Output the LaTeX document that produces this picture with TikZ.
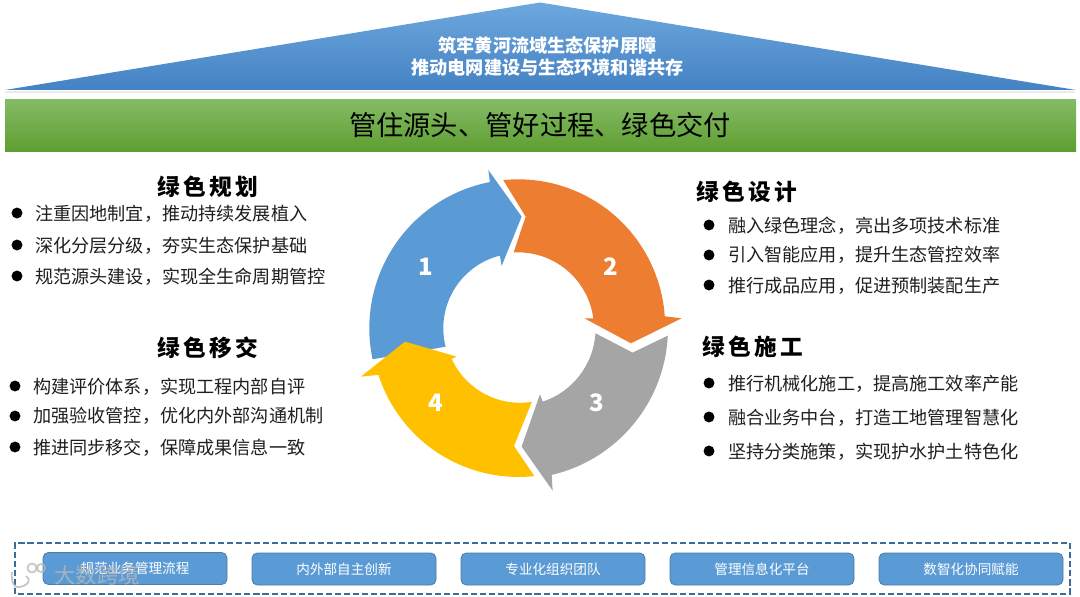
\documentclass[tikz,border=0pt]{standalone}
\usepackage{fontspec}
\setmainfont{Noto Sans CJK SC}
\usetikzlibrary{calc}
\definecolor{cblue}{HTML}{5B9BD5}
\definecolor{corange}{HTML}{ED7D31}
\definecolor{cgray}{HTML}{A5A5A5}
\definecolor{cyellow}{HTML}{FFC000}
\definecolor{dashblue}{HTML}{3A6D99}
\definecolor{rooftop}{HTML}{6DA7DE}
\definecolor{roofbot}{HTML}{4482C3}
\definecolor{bantop}{HTML}{84BB66}
\definecolor{banbot}{HTML}{5E9E30}
\tikzset{
  px/.style={x=0.75pt,y=0.75pt},
  body/.style={anchor=west,inner sep=0pt,font=\fontsize{13.6pt}{16pt}\selectfont,text=black!88},
  head/.style={anchor=center,inner sep=0pt,font=\fontsize{17pt}{20pt}\bfseries\addfontfeature{LetterSpace=15}},
  bullet/.style={circle,fill=black,inner sep=0pt,minimum size=8.2pt},
  numlabel/.style={inner sep=0pt,text=white,font=\fontsize{18pt}{20pt}\bfseries},
  pill/.style={draw=dashblue!90,line width=0.6pt,fill=cblue,rounded corners=4pt,minimum width=138pt,minimum height=24pt,inner sep=0pt,text=white,font=\fontsize{10.2pt}{12pt}\selectfont},
  wmark/.style={black!28,opacity=.8,line width=1.3pt}
}
\begin{document}
\begin{tikzpicture}[px]
\useasboundingbox (0,0) rectangle (1080,596);
\fill[white] (0,0) rectangle (1080,596);
% roof
\fill[black!8] (5,503) rectangle (1075,505);
\shade[top color=rooftop,bottom color=roofbot] (540,593.5) -- (1076,506) -- (5,506) -- cycle;
\node[inner sep=0pt,text=white,align=center,font=\fontsize{13.6pt}{17pt}\bfseries] (roof) at (547.5,539.5) {筑牢黄河流域生态保护屏障\\推动电网建设与生态环境和谐共存};
% banner
\shade[top color=bantop,bottom color=banbot] (5,444) rectangle (1076,496);
\node[inner sep=0pt,font=\fontsize{20.45pt}{24pt}\selectfont,text=black] (banner) at (540,470.5) {管住源头、管好过程、绿色交付};
% cycle
\begin{scope}[shift={(518.3,267.7)},x=0.25pt,y=0.25pt]
\fill[cblue] (192:447) arc[start angle=192,end angle=101,radius=447] -- (-90,475) -- (10,335) -- (-50,187) -- (104.2:225) arc[start angle=104.2,end angle=194.2,radius=225] -- cycle;
\fill[corange] (95.8:447) arc[start angle=95.8,end angle=3.9,radius=441] -- (490,30) -- (338,-45) -- (198,30) -- (7.6:227) arc[start angle=7.6,end angle=93.3,radius=228] -- (22,335) -- cycle;
\fill[cgray] (-2.8:449) arc[start angle=-2.8,end angle=-76.8,radius=452] -- (103,-487) -- (10,-355) -- (65,-198) -- (-71.6:232) arc[start angle=-71.6,end angle=-3.7,radius=232] -- (343,-73) -- cycle;
\fill[cyellow] (-83.8:446) arc[start angle=-83.8,end angle=-162.2,radius=441] -- (-472,-145) -- (-340,-40) -- (-185,-85) -- (204.7:220) arc[start angle=204.7,end angle=279,radius=226] -- (-13,-353) -- cycle;
\end{scope}
\node[numlabel] (n1) at (426,329) {1};
\node[numlabel] (n2) at (611,329) {2};
\node[numlabel] (n3) at (597,193) {3};
\node[numlabel] (n4) at (436,193) {4};
% left
\node[head] (h1) at (207.5,409) {绿色规划};
\node[bullet] (b11) at (17,383) {};
\node[bullet] (b12) at (17,351) {};
\node[bullet] (b13) at (17,320) {};
\node[body] (t11) at (35,382.5) {注重因地制宜，推动持续发展植入};
\node[body] (t12) at (35,350.5) {深化分层分级，夯实生态保护基础};
\node[body] (t13) at (35,319.5) {规范源头建设，实现全生命周期管控};
\node[head] (h4) at (208,248) {绿色移交};
\node[bullet] (b41) at (15,210) {};
\node[bullet] (b42) at (15,180) {};
\node[bullet] (b43) at (15,149) {};
\node[body] (t41) at (33,209) {构建评价体系，实现工程内部自评};
\node[body] (t42) at (33,180) {加强验收管控，优化内外部沟通机制};
\node[body] (t43) at (33,148.5) {推进同步移交，保障成果信息一致};
% right
\node[head] (h2) at (747,404) {绿色设计};
\node[bullet] (b21) at (709,371) {};
\node[bullet] (b22) at (709,341) {};
\node[bullet] (b23) at (709,311) {};
\node[body] (t21) at (728,370) {融入绿色理念，亮出多项技术标准};
\node[body] (t22) at (728,341) {引入智能应用，提升生态管控效率};
\node[body] (t23) at (728,310.5) {推行成品应用，促进预制装配生产};
\node[head] (h3) at (752.5,249.5) {绿色施工};
\node[bullet] (b31) at (709,213) {};
\node[bullet] (b32) at (709,179) {};
\node[bullet] (b33) at (709,145) {};
\node[body] (t31) at (728,212.5) {推行机械化施工，提高施工效率产能};
\node[body] (t32) at (728,178.5) {融合业务中台，打造工地管理智慧化};
\node[body] (t33) at (728,144) {坚持分类施策，实现护水护土特色化};
% bottom
\draw[dashblue,line width=1.3pt,dash pattern=on 4.6pt off 2.2pt] (15,2) rectangle (1070,53);
\node[pill] (p1) at (135,27.5) {规范业务管理流程};
\node[pill] (p2) at (344,27) {内外部自主创新};
\node[pill] (p3) at (553,27) {专业化组织团队};
\node[pill] (p4) at (762,27) {管理信息化平台};
\node[pill] (p5) at (971,27) {数智化协同赋能};
% watermark
\node[inner sep=0pt,text=black!28,text opacity=.8,font=\fontsize{16pt}{20pt}\selectfont] (wm) at (97,21) {大数跨境};
\draw[wmark] (32,28) circle (4.5);
\draw[wmark] (41,28) circle (4);
\draw[wmark] (12,24) .. controls (11,14) and (14,7) .. (20,9) .. controls (28,11) and (32,15) .. (26,20);
\end{tikzpicture}
\end{document}
